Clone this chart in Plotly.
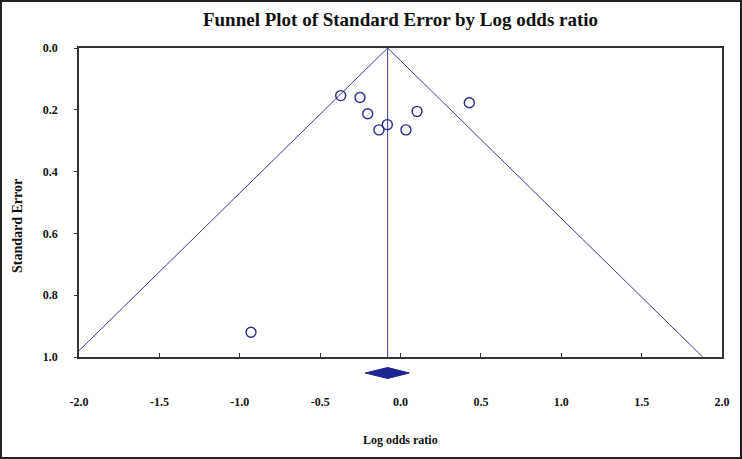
import plotly.graph_objects as go

# ---- data ----
log_odds = [-0.372, -0.252, -0.204, -0.134, -0.082, 0.034, 0.103, 0.428, -0.93]
std_err = [0.154, 0.160, 0.213, 0.265, 0.248, 0.265, 0.205, 0.177, 0.92]
summary_effect = -0.08
summary_ci = [-0.22, 0.055]
se_max = 1.0
z_crit = 1.96
x_tick_vals = [-2.0, -1.5, -1.0, -0.5, 0.0, 0.5, 1.0, 1.5, 2.0]
x_tick_text = ["-2.0", "-1.5", "-1.0", "-0.5", "0.0", "0.5", "1.0", "1.5", "2.0"]
y_tick_vals = [0.0, 0.2, 0.4, 0.6, 0.8, 1.0]
y_tick_text = ["0.0", "0.2", "0.4", "0.6", "0.8", "1.0"]

# ---- layout constants ----
W, H = 742, 459
ML, MR, MT, MB = 79, 20, 48, 20
PW, PH = W - ML - MR, H - MT - MB
main_bottom_px = 357
dom_split = (H - MB - main_bottom_px) / PH
LINE_COL = "#3a3a9c"
MARK_COL = "#2a2a8c"
DIAMOND_COL = "#1f2590"
FONT = "Liberation Serif"

fig = go.Figure()

# funnel (pseudo 95% limits)
fig.add_trace(go.Scatter(
    x=[summary_effect - z_crit * se_max, summary_effect, summary_effect + z_crit * se_max],
    y=[se_max, 0.0, se_max],
    mode="lines", line=dict(color=LINE_COL, width=1), hoverinfo="skip", showlegend=False))
# vertical line at summary effect
fig.add_trace(go.Scatter(
    x=[summary_effect, summary_effect], y=[0.0, se_max],
    mode="lines", line=dict(color=LINE_COL, width=1), hoverinfo="skip", showlegend=False))
# studies
fig.add_trace(go.Scatter(
    x=log_odds, y=std_err, mode="markers",
    marker=dict(symbol="circle-open", size=10, color=MARK_COL, line=dict(width=1.4, color=MARK_COL)),
    showlegend=False))
# summary diamond (in a strip subplot under the main plot; y units ~ pixels)
half_h = 5.5
fig.add_trace(go.Scatter(
    x=[summary_ci[0], summary_effect, summary_ci[1], summary_effect, summary_ci[0]],
    y=[0, half_h, 0, -half_h, 0],
    mode="lines", fill="toself", fillcolor=DIAMOND_COL,
    line=dict(color=DIAMOND_COL, width=1), xaxis="x", yaxis="y2",
    hoverinfo="skip", showlegend=False))

fig.update_layout(
    width=W, height=H,
    margin=dict(l=ML, r=MR, t=MT, b=MB),
    paper_bgcolor="white", plot_bgcolor="white",
    font=dict(family=FONT, size=12, color="#111"),
    title=dict(text="Funnel Plot of Standard Error by Log odds ratio",
               font=dict(family=FONT, size=19, weight="bold", color="#111"),
               x=0.5, xref="paper", xanchor="center",
               y=1 - 19 / H, yref="container", yanchor="middle"),
    xaxis=dict(range=[-2.0, 2.0], anchor="y", tickvals=x_tick_vals, ticktext=x_tick_text,
               ticks="inside", ticklen=4, tickcolor="#333", tickwidth=1,
               showline=True, linecolor="#333", linewidth=1.5, mirror=True,
               showgrid=False, zeroline=False, ticklabelstandoff=33,
               tickfont=dict(family=FONT, size=12, weight="bold", color="#111")),
    yaxis=dict(range=[1.0, 0.0], domain=[dom_split, 1.0], anchor="x",
               tickvals=y_tick_vals, ticktext=y_tick_text,
               ticks="outside", ticklen=3, tickcolor="#333", tickwidth=1,
               showline=True, linecolor="#333", linewidth=1.5, mirror=True,
               showgrid=False, zeroline=False, ticklabelstandoff=14,
               tickfont=dict(family=FONT, size=12, weight="bold", color="#111")),
    yaxis2=dict(domain=[0.0, dom_split], anchor="x", range=[-(H - MB - 373), 373 - main_bottom_px],
                visible=False, fixedrange=True),
    annotations=[
        dict(text="Standard Error", textangle=-90, xref="paper", yref="paper",
             x=(18 - ML) / PW, y=(H - MB - 226) / PH, xanchor="center", yanchor="middle",
             showarrow=False, font=dict(family=FONT, size=14, weight="bold", color="#111")),
        dict(text="Log odds ratio", xref="paper", yref="paper",
             x=0.5, y=(H - MB - 440) / PH, xanchor="center", yanchor="middle",
             showarrow=False, font=dict(family=FONT, size=12, weight="bold", color="#111")),
    ],
    shapes=[
        dict(type="rect", xref="paper", yref="paper",
             x0=(-ML + 1) / PW, x1=1 + (MR - 1) / PW,
             y0=(-MB + 1) / PH, y1=1 + (MT - 1) / PH,
             line=dict(color="#222", width=2), fillcolor="rgba(0,0,0,0)", layer="above"),
    ],
)

fig.write_html("out.html", config={"displayModeBar": False},
               post_script="document.body.style.margin='0px';document.body.style.overflow='hidden';")
